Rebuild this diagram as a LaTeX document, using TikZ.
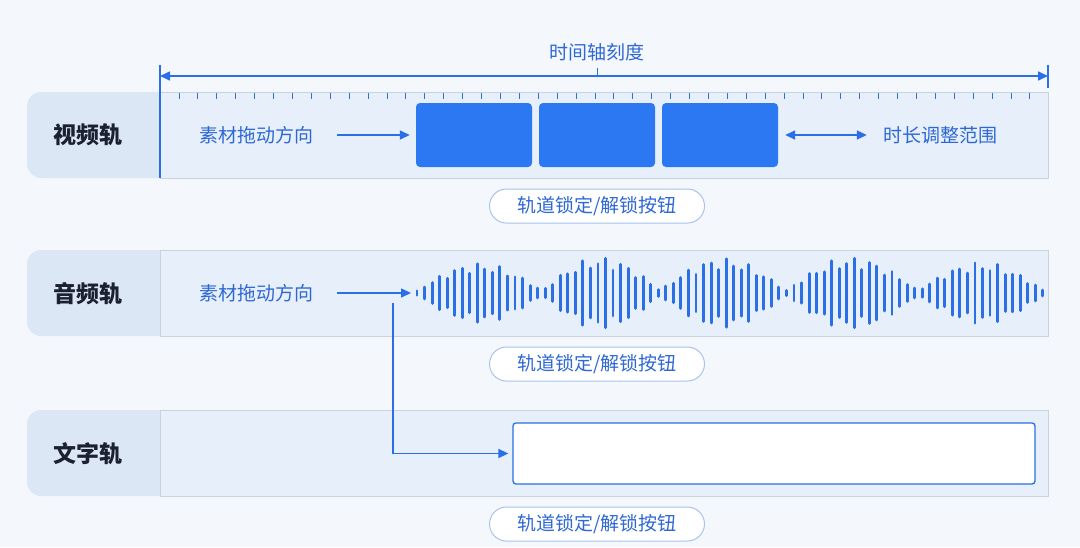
\documentclass[tikz,border=0pt]{standalone}
\usepackage{fontspec}
\setmainfont{Noto Sans CJK SC}
\usetikzlibrary{arrows.meta}
\definecolor{bg}{HTML}{F4F8FC}
\definecolor{labelfill}{HTML}{DCE7F6}
\definecolor{trackfill}{HTML}{E6EFFA}
\definecolor{trackborder}{HTML}{C9D2DD}
\definecolor{lineblue}{HTML}{2A6FE6}
\definecolor{txtblue}{HTML}{2F68D4}
\definecolor{clipblue}{HTML}{2B78F2}
\definecolor{labeltext}{HTML}{1B2130}
\definecolor{pillborder}{HTML}{A8C3EE}
\tikzset{
  trackbox/.style={draw=trackborder, fill=trackfill, line width=1pt},
  labelbox/.style={fill=labelfill, rounded corners=14pt},
  tracklabel/.style={font=\fontsize{23}{23}\selectfont\bfseries, text=labeltext},
  bluetext/.style={font=\fontsize{19}{19}\selectfont, text=txtblue, inner sep=2pt},
  pill/.style={draw=pillborder, fill=white, rounded corners=17pt, minimum width=215pt, minimum height=34pt, bluetext, line width=1pt},
  clipbox/.style={fill=clipblue, rounded corners=4pt, minimum width=116pt, minimum height=64pt, inner sep=0pt},
  textbox/.style={draw=lineblue, fill=white, rounded corners=3pt, minimum width=522pt, minimum height=61pt, inner sep=0pt, line width=1.3pt},
  arr/.style={draw=lineblue, line width=1.5pt, -{Triangle[length=10pt,width=9pt]}},
  darr/.style={draw=lineblue, line width=1.5pt, {Triangle[length=10pt,width=9pt]}-{Triangle[length=10pt,width=9pt]}},
  tickmark/.style={draw=lineblue, line width=1pt},
  wavebar/.style={draw=lineblue, line width=2.9pt, line cap=round},
  bluerule/.style={draw=lineblue, line width=1.5pt},
}
\begin{document}
\begin{tikzpicture}[x=1pt,y=-1pt]
\useasboundingbox (0,0) rectangle (1080,547);
\fill[bg] (0,0) rectangle (1080,547);

% rows
\foreach \t in {92,250,410}{
  \fill[labelbox] (27,\t) rectangle (180,\t+86);
  \draw[trackbox] (160,\t) rectangle (1048,\t+86);
}

% timeline
\node[bluetext] (title) at (597,52) {时间轴刻度};
\coordinate (tl) at (160,76);
\coordinate (tr) at (1048,76);
\draw[darr, line width=1.6pt] (tl) -- (tr);
\draw[bluerule] (160,65) -- (160,178);
\draw[bluerule] (1048,65) -- (1048,88);
\draw[tickmark] (597,68) -- (597,76);
\foreach \k in {0,...,45}{
  \draw[tickmark] ({179+\k*18.91},93) -- ++(0,6);
}

% row 1: video
\node[tracklabel] (lab1) at (88,135) {视频轨};
\node[bluetext] (drag1) at (256,135) {素材拖动方向};
\node[clipbox] (c1) at (474,135) {};
\node[clipbox] (c2) at (597,135) {};
\node[clipbox] (c3) at (720,135) {};
\node[bluetext] (dur) at (940,135) {时长调整范围};
\draw[arr] ([xshift=22pt]drag1.east) -- ([xshift=-6pt]c1.west);
\draw[darr] ([xshift=7pt]c3.east) -- ([xshift=-14pt]dur.west);
\node[pill] (lock1) at (597,206) {轨道锁定/解锁按钮};

% row 2: audio
\node[tracklabel] (lab2) at (88,294) {音频轨};
\node[bluetext] (drag2) at (256,293) {素材拖动方向};
\coordinate (wave) at (411,293);
\draw[arr] ([xshift=22pt]drag2.east) -- (wave);
\foreach \i in {0,...,83}{
  \pgfmathsetmacro{\xx}{417+\i*7.54}
  \pgfmathsetmacro{\la}{\xx<542?417:(\xx<660?542:(\xx<786?660:(\xx<918?786:918)))}
  \pgfmathsetmacro{\lb}{\xx<542?542:(\xx<660?660:(\xx<786?786:(\xx<918?918:1044)))}
  \pgfmathsetmacro{\amp}{\xx<542?30:(\xx<660?36:(\xx<786?35:(\xx<918?36:31)))}
  \pgfmathsetmacro{\tt}{(\xx-\la)/(\lb-\la)}
  \pgfmathsetmacro{\env}{sin(180*\tt)}
  \pgfmathsetmacro{\jit}{0.82+0.18*cos(\i*131)}
  \pgfmathsetmacro{\hh}{2.2+(\amp-2.2)*\env*\jit}
  \draw[wavebar] (\xx,293-\hh) -- (\xx,293+\hh);
}
\node[pill] (lock2) at (597,364) {轨道锁定/解锁按钮};

% row 3: text
\node[tracklabel] (lab3) at (88,454) {文字轨};
\node[textbox] (tbox) at (774,453.5) {};
\coordinate (branch) at (393,303);
\draw[arr] (branch) |- ([xshift=-4pt]tbox.west);
\node[pill] (lock3) at (597,524) {轨道锁定/解锁按钮};
\end{tikzpicture}
\end{document}
